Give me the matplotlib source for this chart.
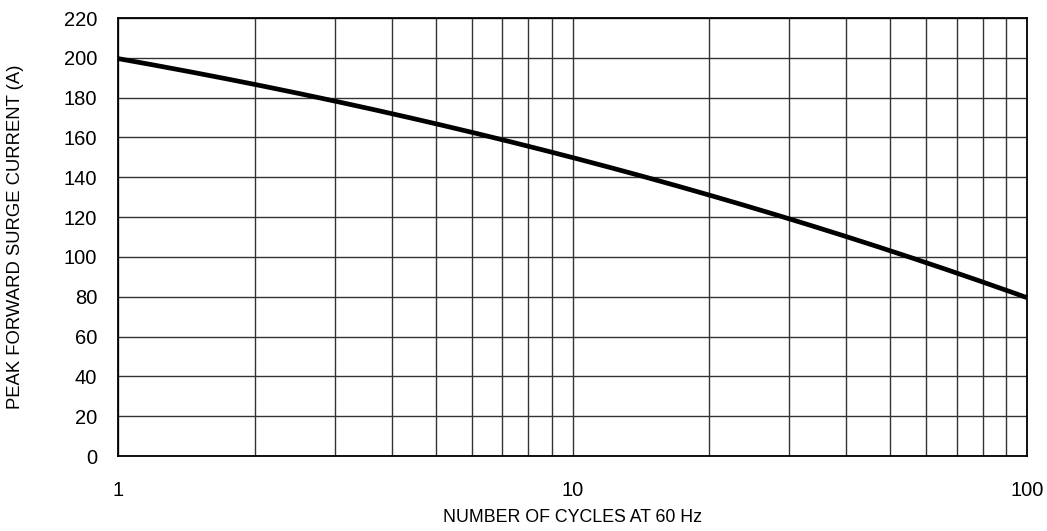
import numpy as np
import matplotlib
matplotlib.use('Agg')
import matplotlib.pyplot as plt
from matplotlib.ticker import FixedLocator, NullFormatter

plt.rcParams['font.family'] = ['Liberation Sans', 'DejaVu Sans']

cycles = [1, 2, 3, 5, 7, 10, 15, 20, 30, 50, 70, 100]
surge_current = [200, 186, 178, 167, 159, 150, 140, 131, 119, 102, 92, 80]

y_ticks = list(range(0, 221, 20))
x_ticks = [1, 10, 100]
x_tick_labels = ['1', '10', '100']

fig = plt.figure(figsize=(10.47, 5.31), dpi=100)
ax = fig.add_axes([118 / 1047, 1 - 456 / 531, (1027 - 118) / 1047, (456 - 18) / 531])

# smooth curve through the read points (cubic in log x)
lx = np.log10(cycles)
coef = np.polyfit(lx, surge_current, 3)
xs = np.linspace(lx[0], lx[-1], 300)
ax.plot(10 ** xs, np.polyval(coef, xs), color='black', lw=3.4,
        solid_capstyle='butt', zorder=3, clip_on=False)

ax.set_xscale('log')
ax.set_xlim(1, 100)
ax.set_ylim(0, 220)
ax.xaxis.set_major_locator(FixedLocator(x_ticks))
ax.set_xticklabels(x_tick_labels)
minor = [m * d for d in (1, 10) for m in range(2, 10)]
ax.xaxis.set_minor_locator(FixedLocator(minor))
ax.xaxis.set_minor_formatter(NullFormatter())
ax.set_yticks(y_ticks)

ax.grid(True, which='both', color='#333333', lw=1.0)
ax.set_axisbelow(True)
for s in ax.spines.values():
    s.set_linewidth(1.3)
    s.set_color('black')

ax.tick_params(which='both', length=0, labelsize=14.5)
ax.tick_params(axis='x', pad=18)
ax.tick_params(axis='y', pad=15)

ax.set_xlabel('NUMBER OF CYCLES AT 60 Hz', fontsize=12.8, va='center')
ax.set_ylabel('PEAK FORWARD SURGE CURRENT (A)', fontsize=13.3, va='center')
ax.xaxis.set_label_coords(0.5, (456 - 517) / 438)
ax.yaxis.set_label_coords((16 - 118) / 909, 0.5)

fig.savefig('out.png', dpi=100)
